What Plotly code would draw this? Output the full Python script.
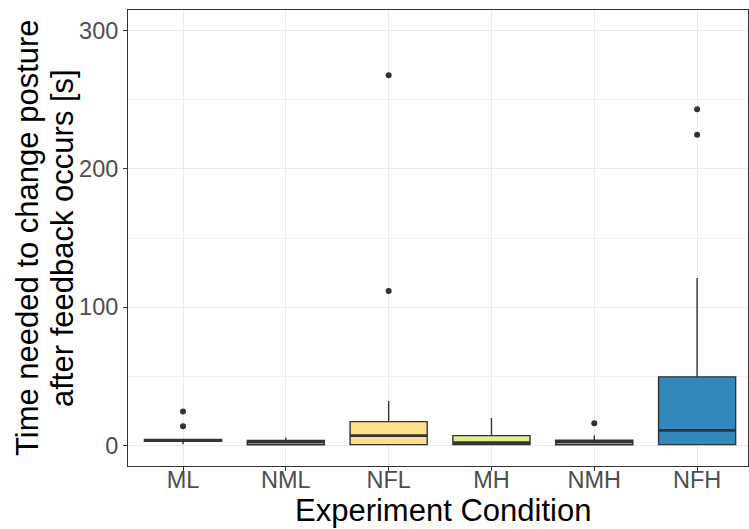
import plotly.graph_objects as go

categories = ["ML", "NML", "NFL", "MH", "NMH", "NFH"]
q1 = [2.9, 0.4, 0.5, 0.5, 0.4, 0.5]
median = [3.6, 2.5, 7.0, 1.9, 2.5, 10.8]
q3 = [4.3, 3.4, 17.1, 7.0, 3.6, 49.5]
lowerfence = [0.7, 0.0, 0.0, 0.0, 0.0, 0.0]
upperfence = [4.6, 5.5, 32.0, 19.7, 7.2, 121.0]
fill_colors = ["#d53e4f", "#d9703c", "#fee08b", "#e0ef90", "#6fae63", "#3288bd"]

outlier_cats = ["ML", "ML", "NFL", "NFL", "NMH", "NFH", "NFH"]
outlier_vals = [24.5, 13.7, 111.7, 267.7, 15.9, 224.7, 243.2]

y_title_lines = ["Time needed to change posture", "after feedback occurs [s]"]
x_title = "Experiment Condition"

W, H = 749, 529
ML, MR, MT, MB = 128, 1, 10, 63
PW, PH = W - ML - MR, H - MT - MB
BOX_W = 0.75

pos = {c: i for i, c in enumerate(categories)}

fig = go.Figure()
for i, c in enumerate(categories):
    fig.add_trace(go.Box(
        x=[i], q1=[q1[i]], median=[median[i]], q3=[q3[i]],
        lowerfence=[lowerfence[i]], upperfence=[upperfence[i]],
        fillcolor=fill_colors[i], line=dict(color="#333333", width=1.4),
        whiskerwidth=0, width=BOX_W, boxpoints=False, showlegend=False,
        hoverinfo="skip",
    ))
    # thicker median bar (ggplot style)
    fig.add_trace(go.Scatter(
        x=[i - BOX_W / 2, i + BOX_W / 2], y=[median[i], median[i]],
        mode="lines", line=dict(color="#333333", width=2.6),
        showlegend=False, hoverinfo="skip",
    ))
fig.add_trace(go.Scatter(
    x=[pos[c] for c in outlier_cats], y=outlier_vals, mode="markers",
    marker=dict(color="#333333", size=6), showlegend=False,
))

font_family = "Liberation Sans, Arial, sans-serif"
annotations = [
    dict(text=x_title, xref="paper", yref="paper", x=(443 - ML) / PW, y=-(510 - (H - MB)) / PH,
         xanchor="center", yanchor="middle", showarrow=False,
         font=dict(size=31, color="black", family=font_family)),
    dict(text=y_title_lines[0], xref="paper", yref="paper", x=(27 - ML) / PW, y=0.5,
         xanchor="center", yanchor="middle", textangle=-90, showarrow=False,
         font=dict(size=31, color="black", family=font_family)),
    dict(text=y_title_lines[1], xref="paper", yref="paper", x=(62 - ML) / PW, y=0.5,
         xanchor="center", yanchor="middle", textangle=-90, showarrow=False,
         font=dict(size=31, color="black", family=font_family)),
]

fig.update_layout(
    width=W, height=H,
    margin=dict(l=ML, r=MR, t=MT, b=MB),
    plot_bgcolor="white", paper_bgcolor="white",
    font=dict(family=font_family),
    annotations=annotations,
)
fig.update_xaxes(
    range=[-0.535, 5.495], automargin=False,
    tickvals=list(range(len(categories))), ticktext=categories,
    showgrid=True, gridcolor="#ebebeb", gridwidth=1,
    showline=True, linecolor="#333333", linewidth=1, mirror=True,
    ticks="outside", ticklen=4, tickcolor="#333333",
    tickfont=dict(size=23.5, color="#4d4d4d"),
    ticklabelstandoff=-11,
    zeroline=False,
)
fig.update_yaxes(
    range=[-15, 315], tickvals=[0, 100, 200, 300], automargin=False,
    showgrid=True, gridcolor="#ebebeb", gridwidth=1,
    minor=dict(tickvals=[50, 150, 250], showgrid=True, gridcolor="#f2f2f2", gridwidth=1),
    showline=True, linecolor="#333333", linewidth=1, mirror=True,
    ticks="outside", ticklen=4, tickcolor="#333333",
    tickfont=dict(size=23.5, color="#4d4d4d"),
    zeroline=False,
)

fig.write_html(
    "out.html",
    config={"displayModeBar": False},
    post_script="document.body.style.margin='0';document.body.style.overflow='hidden';",
)
